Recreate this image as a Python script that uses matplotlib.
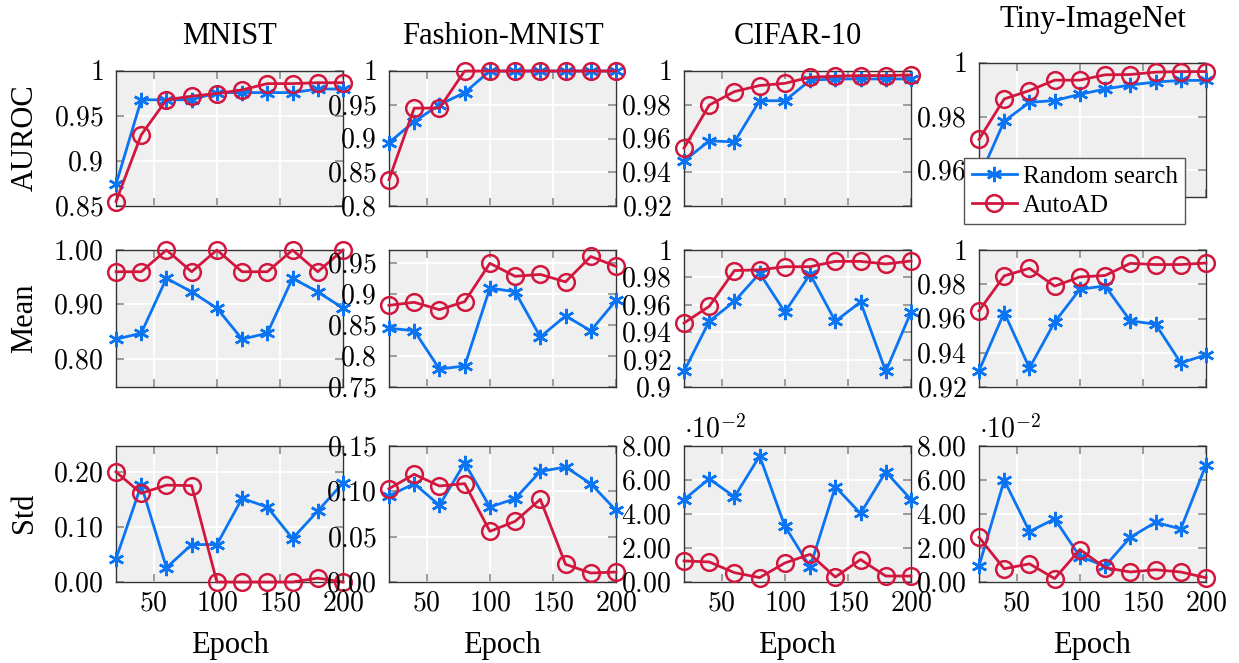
import matplotlib
matplotlib.use('Agg')
import matplotlib.pyplot as plt
from matplotlib.ticker import FixedLocator, FixedFormatter

plt.rcParams['mathtext.fontset'] = 'cm'
plt.rcParams['font.family'] = ['Liberation Serif', 'DejaVu Serif']

epochs = [20, 40, 60, 80, 100, 120, 140, 160, 180, 200]
datasets = ['MNIST', 'Fashion-MNIST', 'CIFAR-10', 'Tiny-ImageNet']
metrics = ['AUROC', 'Mean', 'Std']

# AUROC
auroc_rs_mnist = [0.874, 0.968, 0.968, 0.968, 0.976, 0.976, 0.976, 0.976, 0.980, 0.980]
auroc_ad_mnist = [0.855, 0.929, 0.968, 0.972, 0.975, 0.979, 0.986, 0.986, 0.987, 0.987]
auroc_rs_fmnist = [0.894, 0.925, 0.950, 0.968, 1.0, 1.0, 1.0, 1.0, 1.0, 1.0]
auroc_ad_fmnist = [0.839, 0.945, 0.945, 1.0, 1.0, 1.0, 1.0, 1.0, 1.0, 1.0]
auroc_rs_cifar = [0.9467, 0.9586, 0.958, 0.9824, 0.9824, 0.9945, 0.9953, 0.9953, 0.9953, 0.9953]
auroc_ad_cifar = [0.9543, 0.9798, 0.9878, 0.9914, 0.9927, 0.9963, 0.9969, 0.9973, 0.9973, 0.9976]
auroc_rs_tiny = [0.957, 0.9783, 0.9853, 0.986, 0.9883, 0.9903, 0.9918, 0.9929, 0.9935, 0.9935]
auroc_ad_tiny = [0.9715, 0.9866, 0.9897, 0.9936, 0.9936, 0.9956, 0.9957, 0.9966, 0.9968, 0.9968]

# Mean
mean_rs_mnist = [0.836, 0.847, 0.948, 0.923, 0.893, 0.836, 0.847, 0.948, 0.923, 0.893]
mean_ad_mnist = [0.96, 0.96, 1.0, 0.96, 1.0, 0.96, 0.96, 1.0, 0.96, 1.0]
mean_rs_fmnist = [0.845, 0.841, 0.779, 0.784, 0.910, 0.904, 0.831, 0.865, 0.841, 0.890]
mean_ad_fmnist = [0.882, 0.887, 0.875, 0.888, 0.950, 0.929, 0.932, 0.920, 0.961, 0.945]
mean_rs_cifar = [0.9114, 0.948, 0.9625, 0.983, 0.9547, 0.9823, 0.948, 0.962, 0.9114, 0.9547]
mean_ad_cifar = [0.9467, 0.9589, 0.985, 0.9855, 0.9878, 0.9878, 0.9917, 0.9917, 0.9898, 0.992]
mean_rs_tiny = [0.9295, 0.9635, 0.9311, 0.9579, 0.9771, 0.979, 0.9586, 0.9567, 0.934, 0.9388]
mean_ad_tiny = [0.9645, 0.9849, 0.9893, 0.9789, 0.9843, 0.9851, 0.9922, 0.9915, 0.9915, 0.9924]

# Std
std_rs_mnist = [0.042, 0.176, 0.026, 0.068, 0.068, 0.152, 0.136, 0.079, 0.129, 0.180]
std_ad_mnist = [0.200, 0.161, 0.176, 0.175, 0.0, 0.0, 0.0, 0.0, 0.007, 0.0]
std_rs_fmnist = [0.095, 0.1085, 0.0846, 0.1313, 0.0827, 0.0919, 0.122, 0.1268, 0.1085, 0.079]
std_ad_fmnist = [0.1029, 0.1188, 0.1059, 0.1085, 0.0559, 0.0669, 0.0912, 0.0195, 0.0099, 0.011]
std_rs_cifar = [0.0485, 0.0607, 0.0501, 0.0741, 0.0328, 0.0088, 0.056, 0.0403, 0.0648, 0.0485]
std_ad_cifar = [0.0124, 0.0118, 0.0055, 0.0026, 0.0112, 0.0163, 0.0029, 0.0132, 0.0035, 0.0035]
std_rs_tiny = [0.0094, 0.0599, 0.0297, 0.0371, 0.015, 0.0094, 0.0263, 0.0351, 0.0312, 0.0689]
std_ad_tiny = [0.0263, 0.0078, 0.0107, 0.002, 0.0191, 0.0084, 0.0059, 0.0072, 0.0059, 0.0025]

random_search = [
    [auroc_rs_mnist, auroc_rs_fmnist, auroc_rs_cifar, auroc_rs_tiny],
    [mean_rs_mnist, mean_rs_fmnist, mean_rs_cifar, mean_rs_tiny],
    [std_rs_mnist, std_rs_fmnist, std_rs_cifar, std_rs_tiny],
]
autoad = [
    [auroc_ad_mnist, auroc_ad_fmnist, auroc_ad_cifar, auroc_ad_tiny],
    [mean_ad_mnist, mean_ad_fmnist, mean_ad_cifar, mean_ad_tiny],
    [std_ad_mnist, std_ad_fmnist, std_ad_cifar, std_ad_tiny],
]

# y axis: (limits, tick values, tick labels) for every panel
y_axes = [
    [((0.85, 1.0), [0.85, 0.9, 0.95, 1.0], ['0.85', '0.9', '0.95', '1']),
     ((0.8, 1.0), [0.8, 0.85, 0.9, 0.95, 1.0], ['0.8', '0.85', '0.9', '0.95', '1']),
     ((0.92, 1.0), [0.92, 0.94, 0.96, 0.98, 1.0], ['0.92', '0.94', '0.96', '0.98', '1']),
     ((0.95, 1.0), [0.96, 0.98, 1.0], ['0.96', '0.98', '1'])],
    [((0.748, 1.0), [0.8, 0.9, 1.0], ['0.80', '0.90', '1.00']),
     ((0.75, 0.9715), [0.75, 0.8, 0.85, 0.9, 0.95], ['0.75', '0.8', '0.85', '0.9', '0.95']),
     ((0.9, 1.0), [0.9, 0.92, 0.94, 0.96, 0.98, 1.0], ['0.9', '0.92', '0.94', '0.96', '0.98', '1']),
     ((0.92, 1.0), [0.92, 0.94, 0.96, 0.98, 1.0], ['0.92', '0.94', '0.96', '0.98', '1'])],
    [((0.0, 0.247), [0.0, 0.1, 0.2], ['0.00', '0.10', '0.20']),
     ((0.0, 0.15), [0.0, 0.05, 0.1, 0.15], ['0.00', '0.05', '0.10', '0.15']),
     ((0.0, 0.08), [0.0, 0.02, 0.04, 0.06, 0.08], ['0.00', '2.00', '4.00', '6.00', '8.00']),
     ((0.0, 0.08), [0.0, 0.02, 0.04, 0.06, 0.08], ['0.00', '2.00', '4.00', '6.00', '8.00'])],
]

W, H = 1239, 663
col_x = [(116, 343), (389, 616), (684, 911), (979, 1206)]
row_y = [(71, 206), (250, 387), (446, 582)]

BLUE = '#0a74f2'
RED = '#d2173f'
BG = '#efefef'

fig = plt.figure(figsize=(W / 100, H / 100), dpi=100)


def px_rect(x0, x1, y0, y1):
    return [x0 / W, 1 - y1 / H, (x1 - x0) / W, (y1 - y0) / H]


axes = {}
for r in range(3):
    for c in range(4):
        x0, x1 = col_x[c]
        y0, y1 = row_y[r]
        if r == 0 and c == 3:
            y0, y1 = 63, 197
        ax = fig.add_axes(px_rect(x0, x1, y0, y1))
        ax.set_facecolor(BG)
        ax.grid(True, color='white', linewidth=1.3)
        ax.set_axisbelow(True)
        for s in ax.spines.values():
            s.set_color('#333333')
            s.set_linewidth(1.0)

        ax.plot(epochs, random_search[r][c], color=BLUE, lw=2.0, marker=(6, 2, 0),
                markersize=11, markeredgewidth=1.8, clip_on=False, zorder=3,
                label='Random search')
        ax.plot(epochs, autoad[r][c], color=RED, lw=2.0, marker='o',
                markersize=12, markerfacecolor='none', markeredgewidth=1.8,
                clip_on=False, zorder=4, label='AutoAD')

        ax.set_xlim(20, 200)
        ax.xaxis.set_major_locator(FixedLocator([50, 100, 150, 200]))
        if r == 2:
            ax.xaxis.set_major_formatter(FixedFormatter(['$50$', '$100$', '$150$', '$200$']))
        else:
            ax.set_xticklabels([])

        lim, ticks, labels = y_axes[r][c]
        ax.set_ylim(*lim)
        ax.yaxis.set_major_locator(FixedLocator(ticks))
        ax.yaxis.set_major_formatter(FixedFormatter(['$' + t + '$' for t in labels]))

        ax.tick_params(direction='in', length=6, width=1.2, color='#8c8c8c',
                       top=True, right=True, labelsize=20)
        ax.tick_params(axis='y', pad=9)
        ax.tick_params(axis='x', pad=7)
        axes[r, c] = ax

# column titles
for c, name in enumerate(datasets):
    cx = (col_x[c][0] + col_x[c][1]) / 2
    base = 27 if c == 3 else 44
    fig.text(cx / W, 1 - base / H, name, ha='center', va='baseline', fontsize=22)
    fig.text(cx / W, 1 - 653 / H, 'Epoch', ha='center', va='baseline', fontsize=22)

# row labels
for r, (name, cy) in enumerate(zip(metrics, [138, 318, 513])):
    fig.text(25 / W, 1 - cy / H, name, rotation=90, ha='center', va='center', fontsize=22)

# scale factor on the small std panels
for c in (2, 3):
    fig.text(col_x[c][0] / W, 1 - 437 / H, r'$\cdot 10^{-2}$', ha='left',
             va='baseline', fontsize=20)

leg = axes[0, 3].legend(loc='upper left', bbox_to_anchor=(964 / W, 1 - 158 / H),
                        bbox_transform=fig.transFigure, fontsize=18, frameon=True,
                        fancybox=False, framealpha=1, edgecolor='#555555',
                        borderpad=0.3, labelspacing=0.25, handlelength=1.8,
                        handletextpad=0.25, borderaxespad=0)
leg.get_frame().set_linewidth(1.0)
leg.set_zorder(10)

fig.savefig('out.png', dpi=100)
